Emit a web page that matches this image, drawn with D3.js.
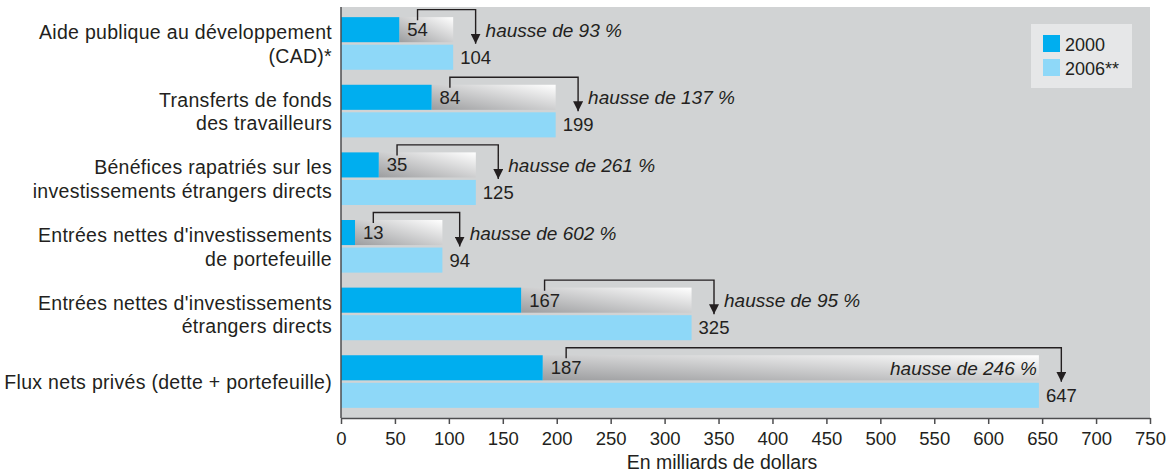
<!DOCTYPE html>
<html>
<head>
<meta charset="utf-8">
<script src="https://cdn.jsdelivr.net/npm/d3@7/dist/d3.min.js"></script>
<style>
  html, body { margin: 0; padding: 0; background: #ffffff; }
  svg { display: block; }
  text { font-family: "Liberation Sans", Arial, Helvetica, sans-serif; fill: #231f20; }
</style>
</head>
<body>
<svg id="chart" width="1168" height="474"></svg>
<script>
// ---- Data ----
const categories = [
  ["Aide publique au développement", "(CAD)*"],
  ["Transferts de fonds", "des travailleurs"],
  ["Bénéfices rapatriés sur les", "investissements étrangers directs"],
  ["Entrées nettes d'investissements", "de portefeuille"],
  ["Entrées nettes d'investissements", "étrangers directs"],
  ["Flux nets privés (dette + portefeuille)"]
];
const values2000 = [54, 84, 35, 13, 167, 187];
const values2006 = [104, 199, 125, 94, 325, 647];
const increases = [93, 137, 261, 602, 95, 246];
const seriesNames = ["2000", "2006**"];
const xTicks = [0, 50, 100, 150, 200, 250, 300, 350, 400, 450, 500, 550, 600, 650, 700, 750];
const axisTitle = "En milliards de dollars";

// ---- Layout ----
const W = 1168, H = 474;
const plot = { left: 341, right: 1150, top: 7, bottom: 418 };
const colors = { c2000: "#00aeef", c2006: "#8ed8f8", bg: "#d1d3d4", axis: "#4d4d4f", ink: "#231f20" };

const svg = d3.select("#chart");
const defs = svg.append("defs");
const grad = defs.append("linearGradient").attr("id", "fade")
  .attr("x1", "0%").attr("y1", "100%").attr("x2", "100%").attr("y2", "0%");
grad.append("stop").attr("offset", "0%").attr("stop-color", "#9c9d9f");
grad.append("stop").attr("offset", "100%").attr("stop-color", "#ffffff");

defs.append("marker").attr("id", "arrow")
  .attr("viewBox", "0 0 10 10").attr("refX", 10).attr("refY", 5)
  .attr("markerWidth", 10).attr("markerHeight", 10).attr("markerUnits", "userSpaceOnUse")
  .attr("orient", "auto")
  .append("path").attr("d", "M0,0 L10,5 L0,10 Z").attr("fill", colors.ink);

const x = d3.scaleLinear().domain([0, 750]).range([plot.left, plot.right]);
const idx = d3.range(categories.length);
const y = d3.scaleBand().domain(idx).range([plot.top, plot.bottom]).paddingInner(0.222).paddingOuter(0.15);
const ySub = d3.scaleBand().domain(seriesNames).range([0, y.bandwidth()]).paddingInner(0.09);

// background
svg.append("rect").attr("x", plot.left).attr("y", plot.top)
  .attr("width", plot.right - plot.left).attr("height", plot.bottom - plot.top)
  .attr("fill", colors.bg);

const g = svg.append("g");

const rows = idx.map(i => ({
  i, cat: categories[i], v0: values2000[i], v1: values2006[i], inc: increases[i]
}));

const grp = g.selectAll("g.grp").data(rows).join("g").attr("class", "grp")
  .attr("transform", d => `translate(0,${y(d.i)})`);

const bh = ySub.bandwidth();
const y0 = ySub("2000"), y1 = ySub("2006**");

// gradient "increase" bar in 2000 row
grp.append("rect")
  .attr("x", d => x(d.v0)).attr("y", y0)
  .attr("width", d => x(d.v1) - x(d.v0)).attr("height", bh)
  .attr("fill", "url(#fade)");
// 2000 bar
grp.append("rect")
  .attr("x", x(0)).attr("y", y0)
  .attr("width", d => x(d.v0) - x(0)).attr("height", bh)
  .attr("fill", colors.c2000);
// 2006 bar
grp.append("rect")
  .attr("x", x(0)).attr("y", y1)
  .attr("width", d => x(d.v1) - x(0)).attr("height", bh)
  .attr("fill", colors.c2006);

// value labels
const fs = 18.5;
const lab0 = grp.append("text")
  .attr("x", d => x(d.v0) + 8).attr("y", y0 + bh / 2 + 6.5)
  .attr("font-size", fs).text(d => d.v0);
const lab1 = grp.append("text")
  .attr("x", d => x(d.v1) + 7).attr("y", y1 + bh / 2 + 6.5)
  .attr("font-size", fs).text(d => d.v1);

// brackets & increase text
grp.each(function(d) {
  const gg = d3.select(this);
  const n0 = lab0.filter(e => e === d).node();
  const n1 = lab1.filter(e => e === d).node();
  const b0 = n0.getBBox(), b1 = n1.getBBox();
  const xa = b0.x + b0.width / 2;
  const xb = b1.x + b1.width / 2;
  const top = y0 - 7.5;
  gg.append("path")
    .attr("d", `M${xa},${y0 + 3} V${top} H${xb} V${y1 - 1}`)
    .attr("fill", "none").attr("stroke", colors.ink).attr("stroke-width", 1.4)
    .attr("marker-end", "url(#arrow)");
  const t = gg.append("text")
    .attr("font-size", 19).attr("font-style", "italic")
    .attr("y", y0 + bh / 2 + 7)
    .text(`hausse de ${d.inc} %`);
  const tw = t.node().getComputedTextLength();
  if (xb + 10 + tw > plot.right - 4) {
    t.attr("x", x(d.v1) - 2).attr("text-anchor", "end");
  } else {
    t.attr("x", xb + 10);
  }
});

// category labels
grp.each(function(d) {
  const gg = d3.select(this);
  const c = y.bandwidth() / 2;
  const lines = d.cat;
  const lh = 23.5;
  const start = c + 7.5 - (lines.length - 1) * lh / 2;
  const t = gg.append("text").attr("text-anchor", "end").attr("font-size", 19.5)
    .attr("letter-spacing", 0.3);
  lines.forEach((ln, k) => {
    t.append("tspan").attr("x", 332).attr("y", start + k * lh).text(ln);
  });
});

// left axis line
svg.append("line").attr("x1", plot.left).attr("x2", plot.left)
  .attr("y1", plot.top).attr("y2", plot.bottom)
  .attr("stroke", colors.axis).attr("stroke-width", 1.5);

// x axis
const xAxis = d3.axisBottom(x).tickValues(xTicks).tickSize(6).tickSizeOuter(0).tickFormat(d3.format("d"));
const ax = svg.append("g").attr("transform", `translate(0,${plot.bottom})`).call(xAxis);
ax.select(".domain").attr("stroke", colors.axis).attr("stroke-width", 1.5);
ax.selectAll(".tick line").attr("stroke", colors.axis).attr("stroke-width", 1.5);
ax.selectAll(".tick text").attr("font-size", 18.5).attr("fill", colors.ink)
  .attr("font-family", '"Liberation Sans", Arial, sans-serif').attr("dy", null).attr("y", 27);

svg.append("text").attr("x", 722).attr("y", 469)
  .attr("text-anchor", "middle").attr("font-size", 19.5).text(axisTitle);

// legend
const lg = svg.append("g").attr("transform", "translate(1031,24)");
lg.append("rect").attr("width", 101).attr("height", 64).attr("fill", "#e6e7e8");
seriesNames.forEach((s, k) => {
  lg.append("rect").attr("x", 12).attr("y", 11 + k * 24).attr("width", 17).attr("height", 17)
    .attr("fill", k === 0 ? colors.c2000 : colors.c2006);
  lg.append("text").attr("x", 34).attr("y", 26.5 + k * 24).attr("font-size", 18).text(s);
});
</script>
</body>
</html>
